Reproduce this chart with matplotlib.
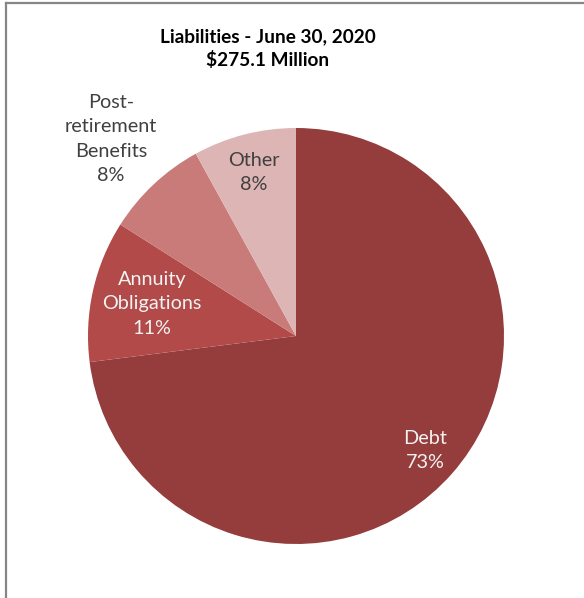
import matplotlib
matplotlib.use("Agg")
import matplotlib.pyplot as plt
from matplotlib.lines import Line2D
import numpy as np

# Composición de pasivos al cierre del ejercicio
categorias = ["Debt", "Annuity\nObligations", "Post-\nretirement\nBenefits", "Other"]
porcentajes = [73, 11, 8, 8]
titulo = "Liabilities - June 30, 2020\n$275.1 Million"

colores = ["#953c3c", "#b14a48", "#c97b79", "#ddb5b5"]
color_texto = ["#f2f2f2", "#f2f2f2", "#404040", "#404040"]
distancia_etiqueta = [0.83, 0.71, 1.30, 0.81]

W, H, DPI = 584, 598, 100
fig = plt.figure(figsize=(W / DPI, H / DPI), dpi=DPI)
fig.patch.set_facecolor("white")

# Marco gris (solo se ve arriba y a la izquierda)
fig.add_artist(Line2D([5.5 / W, 5.5 / W], [0, 1 - 2.5 / H], color="#868686",
                      linewidth=1.6, transform=fig.transFigure))
fig.add_artist(Line2D([5.5 / W, 1], [1 - 2.5 / H, 1 - 2.5 / H], color="#868686",
                      linewidth=1.6, transform=fig.transFigure))

# Eje cuadrado: radio de la torta = 208 px, centro en (296, 336)
cx, cy, r = 296, 336, 208
ax = fig.add_axes([(cx - r) / W, (H - cy - r) / H, 2 * r / W, 2 * r / H])

wedges, _ = ax.pie(porcentajes, colors=colores, startangle=90, counterclock=False,
                   radius=1, wedgeprops={"linewidth": 0})
# pie() fija sus propios límites (±1.25); se restablecen después
ax.set_xlim(-1, 1)
ax.set_ylim(-1, 1)
ax.set_aspect("equal")
ax.axis("off")

for w, cat, pct, d, c in zip(wedges, categorias, porcentajes, distancia_etiqueta, color_texto):
    ang = np.deg2rad((w.theta1 + w.theta2) / 2)
    ax.text(d * np.cos(ang), d * np.sin(ang), f"{cat}\n{pct}%",
            ha="center", va="center", color=c, fontsize=14.3,
            family=["Lato", "DejaVu Sans"], linespacing=1.52, clip_on=False)

fig.text(268 / W, 1 - 49 / H, titulo, ha="center", va="center",
         fontsize=13.7, fontweight="bold", family=["Lato", "DejaVu Sans"],
         linespacing=1.4, color="#000000")

fig.savefig("out.png", dpi=DPI, facecolor="white")
plt.close(fig)
